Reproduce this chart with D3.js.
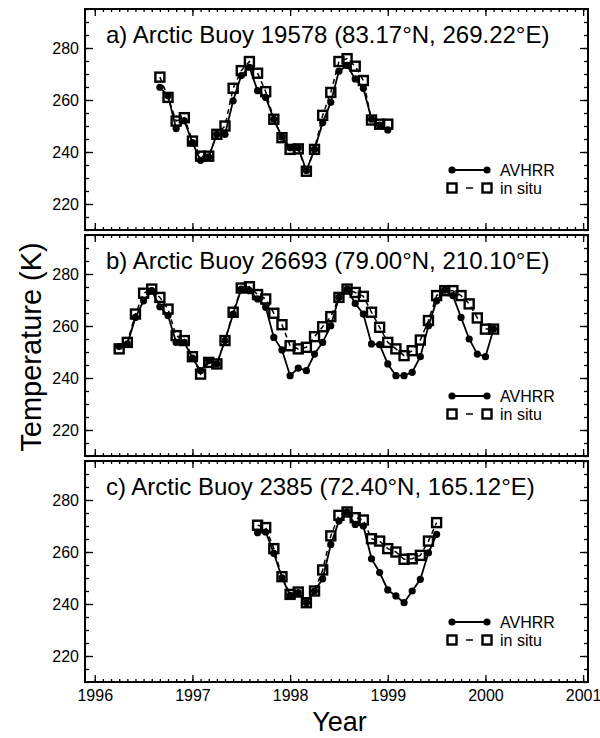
<!DOCTYPE html>
<html>
<head>
<meta charset="utf-8">
<script src="https://cdn.jsdelivr.net/npm/d3@7"></script>
<style>
  body { margin: 0; background: #fff; }
  text { font-family: "Liberation Sans", Arial, sans-serif; fill: #000; }
</style>
</head>
<body>
<svg id="chart" width="600" height="738"></svg>
<script>
// panel titles
const titles = [
  "a) Arctic Buoy 19578 (83.17°N, 269.22°E)",
  "b) Arctic Buoy 26693 (79.00°N, 210.10°E)",
  "c) Arctic Buoy 2385 (72.40°N, 165.12°E)",
];
// first month of each monthly series (decimal year)
const startMonths = [1996 + 8 / 12, 1996 + 3 / 12, 1997 + 8 / 12];

// monthly temperatures (K)
const avhrrA = [264.9, 261.6, 249.0, 252.0, 243.6, 236.8, 238.1, 246.8, 246.8, 259.7,
  269.4, 272.6, 263.6, 261.0, 252.6, 245.7, 241.6, 241.6, 232.9, 241.0,
  251.3, 259.1, 271.1, 273.3, 268.1, 264.5, 252.6, 250.3, 248.5];
const insituA = [268.8, 261.0, 251.9, 253.2, 244.2, 238.4, 238.4, 246.8, 250.0, 264.5,
  271.3, 274.8, 270.3, 263.2, 252.6, 245.5, 241.0, 241.2, 232.6, 241.0,
  254.1, 262.9, 274.8, 275.9, 273.0, 267.5, 252.3, 250.7, 250.7];

const avhrrB = [252.1, 253.1, 263.3, 269.7, 273.6, 267.4, 264.0, 253.7, 253.7, 247.7,
  242.8, 246.7, 245.4, 254.4, 264.6, 274.2, 273.6, 270.4, 267.2, 255.6,
  250.8, 240.9, 243.8, 242.8, 249.2, 253.7, 260.1, 271.0, 274.2, 268.7,
  264.6, 253.1, 252.8, 245.4, 240.9, 240.9, 242.2, 248.2, 260.1, 269.7,
  273.8, 271.7, 263.3, 255.0, 249.2, 248.2, 258.8];
const insituB = [251.2, 253.7, 264.6, 272.6, 274.2, 271.0, 266.5, 256.3, 254.4, 248.2,
  241.5, 246.0, 245.4, 254.4, 265.3, 274.6, 275.1, 272.1, 270.4, 264.9,
  260.5, 252.4, 251.2, 251.8, 255.9, 259.7, 263.6, 271.0, 274.2, 272.9,
  271.4, 265.3, 259.5, 253.7, 251.2, 248.6, 250.5, 254.6, 262.1, 271.7,
  273.6, 273.6, 271.7, 268.5, 263.1, 258.8, 258.8];

const avhrrC = [267.4, 267.7, 259.5, 250.1, 243.3, 244.4, 240.5, 245.0, 249.7, 262.9,
  271.9, 275.4, 270.6, 270.0, 257.4, 252.1, 245.4, 243.1, 240.5, 245.0,
  249.5, 259.7, 266.8];
const insituC = [270.3, 269.4, 261.3, 250.5, 243.7, 244.6, 240.5, 245.0, 253.1, 266.2,
  274.1, 275.4, 273.2, 272.3, 265.1, 264.2, 261.3, 260.0, 257.2, 257.4,
  258.7, 264.2, 271.3];

const yearTicks = [1996, 1997, 1998, 1999, 2000, 2001];
const tempTicks = [220, 240, 260, 280];
const legendLabels = ["AVHRR", "in situ"];

const avhrrSeries = [avhrrA, avhrrB, avhrrC];
const insituSeries = [insituA, insituB, insituC];

// layout
var dims = {
  left: 85,
  right: 588,
  tops: [9, 235, 461],
  height: 221,
};

var svg = d3.select("#chart");

var xScale = d3.scaleLinear().domain([1995.9, 2001.05]).range([dims.left, dims.right]);
var monthTicks = d3.range(1996, 2001.01, 1 / 12);
var minorTemp = d3.range(210, 296, 5);

function toPoints(values, start) {
  return values.map((v, i) => ({ t: start + i / 12, v: v }));
}

function square(sel, size) {
  return sel
    .attr("width", size)
    .attr("height", size)
    .attr("fill", "none")
    .attr("stroke", "#000")
    .attr("stroke-width", 2.4);
}

titles.forEach(function (title, p) {
  var top = dims.tops[p];
  var yScale = d3.scaleLinear().domain([210, 295]).range([dims.height, 0]);
  var g = svg.append("g").attr("transform", `translate(0, ${top})`);

  // ticks, all pointing inward
  var axes = [
    [d3.axisLeft(yScale).tickValues(minorTemp).tickSize(-4), dims.left, 0],
    [d3.axisLeft(yScale).tickValues(tempTicks).tickSize(-8), dims.left, 0],
    [d3.axisRight(yScale).tickValues(minorTemp).tickSize(-4), dims.right, 0],
    [d3.axisRight(yScale).tickValues(tempTicks).tickSize(-8), dims.right, 0],
    [d3.axisBottom(xScale).tickValues(monthTicks).tickSize(-3), 0, dims.height],
    [d3.axisBottom(xScale).tickValues(yearTicks).tickSize(-7), 0, dims.height],
    [d3.axisTop(xScale).tickValues(monthTicks).tickSize(-3), 0, 0],
    [d3.axisTop(xScale).tickValues(yearTicks).tickSize(-7), 0, 0],
  ];
  axes.forEach(function (a) {
    var ax = g
      .append("g")
      .attr("transform", `translate(${a[1]}, ${a[2]})`)
      .call(a[0].tickFormat("").tickSizeOuter(0));
    ax.select(".domain").remove();
    ax.selectAll("line").attr("stroke", "#000").attr("stroke-width", 1.3);
  });

  // y labels
  var yl = g
    .append("g")
    .attr("transform", `translate(${dims.left}, 0)`)
    .call(d3.axisLeft(yScale).tickValues(tempTicks).tickSize(0).tickPadding(6));
  yl.select(".domain").remove();
  yl.selectAll("text").attr("font-size", 16).attr("font-family", null);

  // frame
  g.append("rect")
    .attr("x", dims.left)
    .attr("y", 0)
    .attr("width", dims.right - dims.left)
    .attr("height", dims.height)
    .attr("fill", "none")
    .attr("stroke", "#000")
    .attr("stroke-width", 2);

  g.append("text")
    .attr("x", dims.left + 21)
    .attr("y", 34)
    .attr("font-size", 24)
    .text(title);

  var insitu = toPoints(insituSeries[p], startMonths[p]);
  var avhrr = toPoints(avhrrSeries[p], startMonths[p]);
  var line = d3
    .line()
    .x((d) => xScale(d.t))
    .y((d) => yScale(d.v));

  // in situ: dashed line + open squares
  g.append("path")
    .datum(insitu)
    .attr("d", line)
    .attr("fill", "none")
    .attr("stroke", "#000")
    .attr("stroke-width", 1.5)
    .attr("stroke-dasharray", "5,4");
  g.selectAll(".sq")
    .data(insitu)
    .enter()
    .append("rect")
    .attr("x", (d) => xScale(d.t) - 4.5)
    .attr("y", (d) => yScale(d.v) - 4.5)
    .call(square, 9);

  // AVHRR: solid line + filled circles
  g.append("path")
    .datum(avhrr)
    .attr("d", line)
    .attr("fill", "none")
    .attr("stroke", "#000")
    .attr("stroke-width", 1.8);
  g.selectAll(".dot")
    .data(avhrr)
    .enter()
    .append("circle")
    .attr("cx", (d) => xScale(d.t))
    .attr("cy", (d) => yScale(d.v))
    .attr("r", 3.6)
    .attr("fill", "#000");

  // legend
  var lg = g.append("g").attr("transform", "translate(452, 161)");
  lg.append("line").attr("x1", 0).attr("x2", 35).attr("stroke", "#000").attr("stroke-width", 1.8);
  lg.selectAll("circle").data([0, 35]).enter().append("circle")
    .attr("cx", (d) => d).attr("r", 3.6).attr("fill", "#000");
  lg.append("line").attr("x1", 14).attr("x2", 21).attr("y1", 18).attr("y2", 18)
    .attr("stroke", "#000").attr("stroke-width", 1.5);
  lg.selectAll("rect").data([0, 35]).enter().append("rect")
    .attr("x", (d) => d - 4.5).attr("y", 13.5)
    .call(square, 9);
  lg.selectAll(".lt").data(legendLabels).enter().append("text")
    .attr("x", 48).attr("y", (d, i) => 6 + i * 18)
    .attr("font-size", 16)
    .text((d) => d);
});

// x tick labels under the last panel
var xl = svg
  .append("g")
  .attr("transform", `translate(0, ${dims.tops[2] + dims.height})`)
  .call(d3.axisBottom(xScale).tickValues(yearTicks).tickFormat(d3.format("d")).tickSize(0).tickPadding(8));
xl.select(".domain").remove();
xl.selectAll("text").attr("font-size", 16).attr("font-family", null);

// axis titles
svg.append("text")
  .attr("x", (dims.left + dims.right) / 2 + 3)
  .attr("y", 731)
  .attr("text-anchor", "middle")
  .attr("font-size", 27)
  .text("Year");

svg.append("text")
  .attr("transform", "translate(41, 347) rotate(-90)")
  .attr("text-anchor", "middle")
  .attr("font-size", 29)
  .text("Temperature (K)");
</script>
</body>
</html>
